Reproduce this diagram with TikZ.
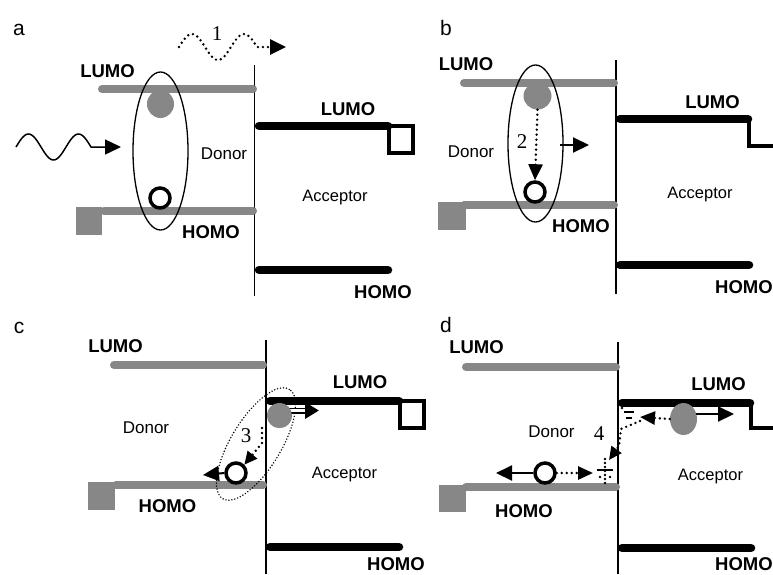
\documentclass[tikz,border=0pt]{standalone}
\usepackage{fontspec}
\setmainfont{Liberation Sans}
\newfontfamily\serifdig{Liberation Serif}
\usetikzlibrary{arrows.meta,shapes.geometric}
\definecolor{lvgray}{RGB}{135,135,135}
\tikzset{
  lvl/.style={font=\fontsize{18.5}{20}\selectfont\bfseries, inner sep=0pt, anchor=base},
  dlbl/.style={font=\fontsize{17}{18}\selectfont, inner sep=0pt, anchor=base},
  albl/.style={font=\fontsize{16.5}{18}\selectfont, inner sep=0pt, anchor=base},
  plbl/.style={font=\fontsize{21}{22}\selectfont, inner sep=0pt, anchor=base},
  numlbl/.style={font=\serifdig\fontsize{21}{22}\selectfont, inner sep=0pt, anchor=base},
  graybar/.style={line width=8pt, draw=lvgray, line cap=round},
  blackbar/.style={line width=8.5pt, line cap=round},
  iface/.style={line width=1.8pt},
  openbox/.style={line width=3.5pt},
  excbox/.style={draw, ellipse, line width=1.3pt, inner sep=0pt},
  dotexc/.style={draw, ellipse, line width=1.6pt, dash pattern=on 0pt off 3pt, line cap=round, inner sep=0pt},
  hole/.style={circle, draw, line width=3.5pt, minimum size=20pt, inner sep=0pt},
  elec/.style={ellipse, fill=lvgray, inner sep=0pt},
  arr/.style={line width=2pt, -{Triangle[length=16pt,width=15pt]}},
  dotline/.style={line width=2.7pt, dash pattern=on 0pt off 5pt, line cap=round},
}
\begin{document}
\begin{tikzpicture}[x=1pt,y=-1pt]
\useasboundingbox (0,0) rectangle (773,574);
\fill[white] (0,0) rectangle (773,574);

% ================= panel a =================
\node[plbl] (pa) at (19,35) {a};
\draw[iface] (254.5,65) coordinate (vaT) -- (254.5,296) coordinate (vaB);
\draw[graybar] (102,89) coordinate (adL1) -- (253,89) coordinate (adL2);
\fill[lvgray] (76,207) rectangle (102,235);
\draw[graybar] (104,211) coordinate (adH1) -- (253,211) coordinate (adH2);
\draw[blackbar] (259,126) coordinate (aaL1) -- (388,126) coordinate (aaL2);
\draw[openbox] (389,126) rectangle (413,153);
\draw[blackbar] (259,270) coordinate (aaH1) -- (388,270) coordinate (aaH2);
\node[lvl] (aLd) at (107.5,77) {LUMO};
\node[lvl] (aLa) at (348,115) {LUMO};
\node[lvl] (aHd) at (211,238) {HOMO};
\node[lvl] (aHa) at (383,298) {HOMO};
\node[dlbl] (aDon) at (224,159) {Donor};
\node[albl] (aAcc) at (335,201) {Acceptor};
\node[excbox, minimum width=55pt, minimum height=158pt] (aExc) at (160.5,151) {};
\node[elec, minimum width=27pt, minimum height=28pt] (aEl) at (160.5,104) {};
\node[hole] (aHo) at (160,198) {};
% incoming photon
\coordinate (aPhTip) at (121,147);
\draw[arr, line width=1.5pt] plot[domain=16:91, samples=60, smooth] (\x,{147-13*sin((\x-16)/50*360)}) -- (aPhTip);
% emitted photon 1
\coordinate (a1Tip) at (286,47);
\draw[dotline, -{Triangle[length=16pt,width=15pt]}] plot[domain=179:257, samples=60, smooth] (\x,{47-13*sin((\x-179)/52*360)}) -- (a1Tip);
\node[numlbl] (n1) at (217,40) {1};

% ================= panel b =================
\node[plbl] (pb) at (446,35) {b};
\draw[iface] (616,60) coordinate (vbT) -- (616,294) coordinate (vbB);
\draw[graybar] (464,83) coordinate (bdL1) -- (614,83) coordinate (bdL2);
\fill[lvgray] (438,202) rectangle (466,230);
\draw[graybar] (464,205) coordinate (bdH1) -- (614,205) coordinate (bdH2);
\draw[blackbar] (620,119) coordinate (baL1) -- (748,119) coordinate (baL2);
\draw[openbox] (749,119) -- (749,146) -- (773,146);
\draw[blackbar] (620,265) coordinate (baH1) -- (749,265) coordinate (baH2);
\node[lvl] (bLd) at (466,70) {LUMO};
\node[lvl] (bLa) at (712.5,108) {LUMO};
\node[lvl] (bHd) at (581,232) {HOMO};
\node[lvl] (bHa) at (744,293) {HOMO};
\node[dlbl] (bDon) at (471,157) {Donor};
\node[albl] (bAcc) at (700,198) {Acceptor};
\node[excbox, minimum width=55pt, minimum height=157pt] (bExc) at (535.5,143.5) {};
\node[elec, minimum width=28pt, minimum height=27pt] (bEl) at (537.5,96) {};
\node[hole] (bHo) at (535,192) {};
\draw[dotline, -{Triangle[length=16pt,width=14pt]}] (bEl.south) -- (bHo.north);
\node[numlbl] (n2) at (522,148) {2};
\coordinate (bArS) at (560,145);
\coordinate (bArE) at (589,145);
\draw[arr] (bArS) -- (bArE);

% ================= panel c =================
\node[plbl] (pc) at (19,333) {c};
\draw[iface] (266,340) coordinate (vcT) -- (266,574) coordinate (vcB);
\draw[graybar] (114,365) coordinate (cdL1) -- (263,365) coordinate (cdL2);
\fill[lvgray] (88,482) rectangle (115,510);
\draw[graybar] (116,485) coordinate (cdH1) -- (263,485) coordinate (cdH2);
\draw[blackbar] (270,401) coordinate (caL1) -- (399,401) coordinate (caL2);
\draw[openbox] (400,401) rectangle (424,428);
\draw[blackbar] (270,547) coordinate (caH1) -- (399,547) coordinate (caH2);
\node[lvl] (cLd) at (115.5,352) {LUMO};
\node[lvl] (cLa) at (360,388) {LUMO};
\node[lvl] (cHd) at (167.5,512) {HOMO};
\node[lvl] (cHa) at (396,570) {HOMO};
\node[dlbl] (cDon) at (146,433) {Donor};
\node[albl] (cAcc) at (344.5,478) {Acceptor};
\node[dotexc, minimum width=128pt, minimum height=50pt, rotate=58.7] (cExc) at (256,444) {};
\node[elec, minimum width=25pt, minimum height=25pt] (cEl) at (279.5,415.5) {};
\node[hole] (cHo) at (236,473) {};
% hollow arrow (electron moving into acceptor)
\coordinate (cArS) at (288,410.5);
\coordinate (cArE) at (319,410.5);
\draw[line width=6pt, -{Triangle[length=14pt,width=16pt]}] (cArS) -- (cArE);
\draw[white, line width=2.4pt] (cArS) -- (305,410.5);
\node[elec, minimum width=25pt, minimum height=25pt] at (279.5,415.5) {};
% dotted transfer 3
\coordinate (c3a) at (262,428);
\coordinate (c3b) at (262,443);
\draw[dotline, -{Triangle[length=13pt,width=12pt]}] (c3a) -- (c3b) -- (cHo.north east);
\node[numlbl] (n3) at (246,442) {3};
\coordinate (cHoTip) at (203,475);
\draw[arr] (cHo.west) -- (cHoTip);

% ================= panel d =================
\node[plbl] (pd) at (446,332) {d};
\draw[iface] (618,342) coordinate (vdT) -- (618,574) coordinate (vdB);
\draw[graybar] (466,367) coordinate (ddL1) -- (616,367) coordinate (ddL2);
\fill[lvgray] (439,485) rectangle (466,512);
\draw[graybar] (466,487) coordinate (ddH1) -- (616,487) coordinate (ddH2);
\draw[blackbar] (622,403) coordinate (daL1) -- (750,403) coordinate (daL2);
\draw[openbox] (751,403) -- (751,428) -- (773,428);
\draw[blackbar] (622,548) coordinate (daH1) -- (751,548) coordinate (daH2);
\node[lvl] (dLd) at (476.5,353) {LUMO};
\node[lvl] (dLa) at (718.5,390) {LUMO};
\node[lvl] (dHd) at (524,517) {HOMO};
\node[lvl] (dHa) at (744,570) {HOMO};
\node[dlbl] (dDon) at (551.5,437) {Donor};
\node[albl] (dAcc) at (710.5,480) {Acceptor};
\node[elec, minimum width=27pt, minimum height=32pt] (dEl) at (683.5,419) {};
\node[hole] (dHo) at (545,473) {};
\coordinate (dElS) at (696,414);
\coordinate (dElR) at (734,414);
\draw[arr] (dElS) -- (dElR);
\coordinate (dElL) at (640,417);
\draw[dotline, -{Triangle[length=15pt,width=13pt]}] (dEl.west) -- (dElL);
\coordinate (dHoL) at (496,473);
\draw[arr] (dHo.west) -- (dHoL);
\coordinate (dHoR) at (593,473);
\draw[dotline, -{Triangle[length=15pt,width=13pt]}] (dHo.east) -- (dHoR);
% recombination path 4 along the interface
\draw[line width=1.8pt] (624,412) -- (634,412);
\draw[line width=1.6pt] (626,418) -- (632,418);
\draw[dotline] (622,408) -- (623,408);
\coordinate (d4a) at (640,421);
\coordinate (d4b) at (621,429);
\coordinate (d4c) at (619,446);
\coordinate (d4tip) at (609,460);
\draw[dotline, -{Triangle[length=13pt,width=12pt]}] (d4a) -- (d4b) -- (d4c) -- (d4tip);
\node[numlbl] (n4) at (599,440) {4};
\draw[dotline, dash pattern=on 0pt off 4pt] (605,459) -- (605,483);
\draw[line width=1.6pt] (597,470) -- (613,470);
\draw[dotline] (600,477) -- (601,477);
\draw[dotline] (610,477) -- (611,477);
\end{tikzpicture}
\end{document}
